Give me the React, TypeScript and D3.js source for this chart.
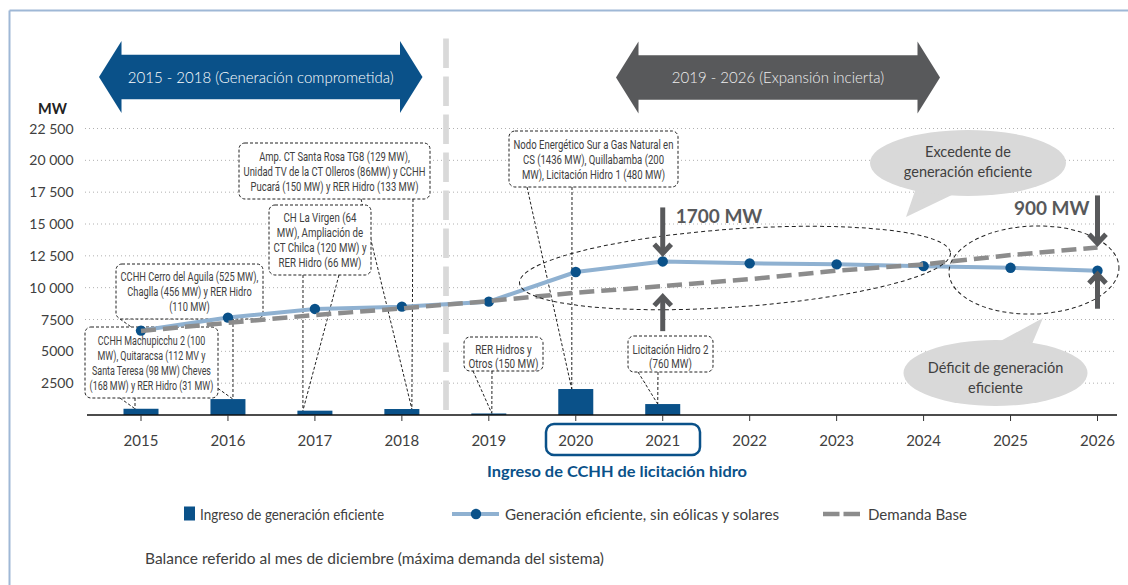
import React, { useLayoutEffect, useRef } from 'react';
import * as d3 from 'd3';

// ---------- DATA ----------
const years = [2015, 2016, 2017, 2018, 2019, 2020, 2021, 2022, 2023, 2024, 2025, 2026];
const ingresoYears = [2015, 2016, 2017, 2018, 2019, 2020, 2021];
const ingreso = [490, 1250, 340, 470, 120, 2040, 860];
const generacion = [6630, 7650, 8330, 8510, 8900, 11230, 12060, 11910, 11830, 11690, 11560, 11330];
const demanda = [6600, 7240, 7850, 8370, 8950, 9600, 10120, 10670, 11330, 11830, 12560, 13160];
const yTicks = [2500, 5000, 7500, 10000, 12500, 15000, 17500, 20000, 22500];
const yTickLabels = ['2500', '5000', '7500', '10 000', '12 500', '15 000', '17 500', '20 000', '22 500'];

const callout2015 = ['CCHH Machupicchu 2 (100', 'MW), Quitaracsa (112 MV y', 'Santa Teresa (98 MW) Cheves', '(168 MW) y RER Hidro (31 MW)'];
const callout2016 = ['CCHH Cerro del Aguila (525 MW),', 'Chaglla (456 MW) y RER Hidro', '(110 MW)'];
const callout2017 = ['CH La Virgen (64', 'MW), Ampliación de', 'CT Chilca (120 MW) y', 'RER Hidro (66 MW)'];
const callout2018 = ['Amp. CT Santa Rosa TG8 (129 MW),', 'Unidad TV de la CT Olleros (86MW) y CCHH', 'Pucará (150 MW) y RER Hidro (133 MW)'];
const callout2019 = ['RER Hidros y', 'Otros (150 MW)'];
const callout2020 = ['Nodo Energético Sur a Gas Natural en', 'CS (1436 MW), Quillabamba (200', 'MW), Licitación Hidro 1 (480 MW)'];
const callout2021 = ['Licitación Hidro 2', '(760 MW)'];

const periodLeft = '2015 - 2018 (Generación comprometida)';
const periodRight = '2019 - 2026 (Expansión incierta)';
const excedente = ['Excedente de', 'generación eficiente'];
const deficit = ['Déficit de generación', 'eficiente'];
const legendLabels = ['Ingreso de generación eficiente', 'Generación eficiente, sin eólicas y solares', 'Demanda Base'];
const highlightLabel = 'Ingreso de CCHH de licitación hidro';
const footnote = 'Balance referido al mes de diciembre (máxima demanda del sistema)';
const gap2021 = '1700 MW';
const gap2026 = '900 MW';

// ---------- STYLE ----------
const BLUE = '#0a5189';
const LIGHT = '#8fb1d1';
const DASH = '#8c8c8c';
const DARK = '#58595b';
const TXT = '#404040';
const BUBBLE = '#d9d9d9';
const FONT = 'Lato, "Open Sans", sans-serif';
const NARROW = '"Liberation Sans Narrow", Roboto, sans-serif';

const x = d3.scalePoint<number>().domain(years).range([141, 1097.5]);
const y = d3.scaleLinear().domain([0, 22500]).range([415, 128.5]);

const callouts = [
  { year: 2015, lines: callout2015, box: [85, 327, 133, 71], bases: [120, 135], dx: -6 },
  { year: 2016, lines: callout2016, box: [116, 264, 147, 55], bases: [120, 233], dx: 5 },
  { year: 2018, lines: callout2018, box: [239, 143, 191, 56], bases: [361, 413], dx: 10 },
  { year: 2017, lines: callout2017, box: [269, 205, 102, 70], bases: [303, 339], dx: -12 },
  { year: 2019, lines: callout2019, box: [464, 337, 79, 34], bases: [473, 492], dx: 3 },
  { year: 2020, lines: callout2020, box: [509, 131, 169, 56], bases: [527, 572], dx: -4 },
  { year: 2021, lines: callout2021, box: [628, 336, 85, 36], bases: [638, 658], dx: -5 },
];

function BigArrow({ x0, x1, cy, text, fill, color }: any) {
  const hw = 22.5, hh = 36, sh = 22.3;
  const pts = [
    [x0, cy], [x0 + hw, cy - hh], [x0 + hw, cy - sh], [x1 - hw, cy - sh], [x1 - hw, cy - hh],
    [x1, cy], [x1 - hw, cy + hh], [x1 - hw, cy + sh], [x0 + hw, cy + sh], [x0 + hw, cy + hh],
  ];
  return (
    <g>
      <polygon points={pts.map((p) => p.join(',')).join(' ')} fill={fill} />
      <text x={(x0 + x1) / 2} y={cy + 5.5} textAnchor="middle" fontFamily={FONT} fontSize={15} fontWeight={300} fill={color}>{text}</text>
    </g>
  );
}

function GapArrow({ cx, from, to }: any) {
  const dir = Math.sign(to - from);
  const tip = to - dir * 3.5;
  return (
    <g stroke={DARK} fill="none" strokeWidth={5}>
      <line x1={cx} y1={from} x2={cx} y2={tip - dir * 2} />
      <polyline points={`${cx - 8.5},${tip - dir * 9} ${cx},${tip} ${cx + 8.5},${tip - dir * 9}`} strokeLinejoin="miter" />
    </g>
  );
}

export default function App() {
  const ref = useRef<SVGSVGElement>(null);

  useLayoutEffect(() => {
    const fit = () => {
      if (!ref.current) return;
      d3.select(ref.current).selectAll<SVGGElement, unknown>('g.callout').each(function () {
        const g = d3.select(this);
        const w = +g.attr('data-w');
        const cx = +g.attr('data-cx');
        const tg = g.select<SVGGElement>('g.txt');
        tg.attr('transform', null);
        let m = 0;
        tg.selectAll<SVGTextElement, unknown>('text').each(function () {
          m = Math.max(m, this.getComputedTextLength());
        });
        if (m > 0) {
          const s = (w - 9) / m;
          tg.attr('transform', `translate(${cx},0) scale(${s},1) translate(${-cx},0)`);
        }
      });
    };
    fit();
    (document as any).fonts?.ready?.then(fit);
  }, []);

  const line = d3.line<number>().x((_, i) => x(years[i])!).y((d) => y(d));

  const ellipse1 = { cx: 735, cy: 268, rx: 216, ry: 39, rot: -4 };
  const ellipse2 = { cx: 1034, cy: 270, rx: 85, ry: 44, rot: -2 };

  const i21 = years.indexOf(2021);
  const i26 = years.indexOf(2026);

  return (
    <svg ref={ref} width={1128} height={585} style={{ position: 'absolute', left: 0, top: 0, background: '#fff' }}>
      {/* frame */}
      <line x1={9.5} y1={10.5} x2={1128} y2={10.5} stroke="#9fb8d6" strokeWidth={2} />
      <line x1={9.5} y1={10.5} x2={9.5} y2={585} stroke="#9fb8d6" strokeWidth={2} />

      {/* period arrows */}
      <BigArrow x0={99} x1={422.5} cy={77} text={periodLeft} fill={BLUE} color="#ffffff" />
      <BigArrow x0={616} x1={940} cy={77.5} text={periodRight} fill={DARK} color="#eeeeee" />

      {/* y axis label */}
      <text x={38} y={113.5} fontFamily={FONT} fontSize={14.5} fontWeight={700} fill="#222">MW</text>

      {/* grid */}
      {yTicks.map((t, i) => (
        <g key={t}>
          <line x1={85} x2={1117} y1={y(t)} y2={y(t)} stroke="#b0b0b0" strokeWidth={1} strokeDasharray="1 3" />
          <text x={73.5} y={y(t) + 5} textAnchor="end" fontFamily={FONT} fontSize={14} fill={TXT}>{yTickLabels[i]}</text>
        </g>
      ))}

      {/* separator */}
      <line x1={446} x2={446} y1={38.5} y2={415} stroke="#d9d9d9" strokeWidth={5.7} strokeDasharray="29.5 8.5" />

      {/* callout leaders */}
      {callouts.map((c) => {
        const idx = ingresoYears.indexOf(c.year);
        const tx = x(c.year)! + c.dx;
        const ty = y(ingreso[idx]);
        const by = c.box[1] + c.box[3];
        return (
          <g key={'l' + c.year} stroke="#222" strokeWidth={1} strokeDasharray="3 2" fill="none">
            {c.bases.map((bx, k) => (
              <line key={k} x1={bx} y1={by} x2={tx} y2={ty} />
            ))}
          </g>
        );
      })}

      {/* callout boxes */}
      {callouts.map((c) => {
        const [bx, by, bw, bh] = c.box;
        const cx = bx + bw / 2;
        const lh = c.lines.length === 2 ? 14 : 15;
        const first = by + bh / 2 - ((c.lines.length - 1) * lh) / 2 + (c.lines.length === 2 ? 2.5 : 0);
        return (
          <g key={'b' + c.year} className="callout" data-w={bw} data-cx={cx}>
            <rect x={bx} y={by} width={bw} height={bh} rx={6} fill="#fff" stroke="#222" strokeWidth={1} strokeDasharray="3 2" />
            <g className="txt">
              {c.lines.map((l, k) => (
                <text key={k} x={cx} y={first + k * lh + 4.6} textAnchor="middle" fontFamily={NARROW} fontSize={13} fill={TXT}>{l}</text>
              ))}
            </g>
          </g>
        );
      })}

      {/* bars */}
      {ingresoYears.map((yr, i) => (
        <rect key={yr} x={x(yr)! - 17.5} width={35} y={y(ingreso[i])} height={y(0) - y(ingreso[i])} fill={BLUE} />
      ))}

      {/* axis */}
      <line x1={87} x2={1117} y1={415} y2={415} stroke="#111" strokeWidth={1.5} />
      {years.map((yr) => (
        <g key={yr}>
          <line x1={x(yr)} x2={x(yr)} y1={415} y2={421} stroke="#333" strokeWidth={1} />
          <text x={x(yr)} y={446} textAnchor="middle" fontFamily={FONT} fontSize={15} fill={TXT}>{yr}</text>
        </g>
      ))}

      {/* generation line */}
      <path d={line(generacion) || ''} fill="none" stroke={LIGHT} strokeWidth={4} strokeLinejoin="round" />
      {generacion.map((v, i) => (
        <circle key={i} cx={x(years[i])} cy={y(v)} r={5.2} fill={BLUE} />
      ))}
      {/* demand line */}
      <path d={line(demanda) || ''} fill="none" stroke={DASH} strokeWidth={4.5} strokeDasharray="15 7" />

      {/* ellipses */}
      {[ellipse1, ellipse2].map((e, k) => (
        <ellipse key={k} cx={e.cx} cy={e.cy} rx={e.rx} ry={e.ry} transform={`rotate(${e.rot},${e.cx},${e.cy})`}
          fill="none" stroke="#222" strokeWidth={1} strokeDasharray="4 3" />
      ))}

      {/* gap arrows */}
      <GapArrow cx={x(2021)} from={y(generacion[i21]) - 54} to={y(generacion[i21]) - 4.6} />
      <GapArrow cx={x(2021)} from={y(demanda[i21]) + 45} to={y(demanda[i21]) + 7} />
      <text x={x(2021)! + 13} y={222.7} fontFamily={FONT} fontSize={19} fontWeight={700} fill={DARK}>{gap2021}</text>
      <GapArrow cx={x(2026)} from={y(demanda[i26]) - 52} to={y(demanda[i26]) - 0.6} />
      <GapArrow cx={x(2026)} from={y(generacion[i26]) + 38} to={y(generacion[i26])} />
      <text x={x(2026)! - 8} y={214.5} textAnchor="end" fontFamily={FONT} fontSize={19} fontWeight={700} fill={DARK}>{gap2026}</text>

      {/* speech bubbles */}
      <g>
        <polygon points="906,217 916,188 956,193" fill={BUBBLE} />
        <ellipse cx={968} cy={163} rx={98} ry={33} fill={BUBBLE} />
        {excedente.map((t, k) => (
          <text key={k} x={968} y={157 + k * 20} textAnchor="middle" fontFamily={FONT} fontSize={14.5} fill={TXT}>{t}</text>
        ))}
        <polygon points="1043,318 995,344 1032,344" fill={BUBBLE} />
        <ellipse cx={995.5} cy={373} rx={92} ry={33} fill={BUBBLE} />
        {deficit.map((t, k) => (
          <text key={k} x={995.5} y={373 + k * 20} textAnchor="middle" fontFamily={FONT} fontSize={14.5} fill={TXT}>{t}</text>
        ))}
      </g>

      {/* highlight 2020-2021 */}
      <rect x={546} y={424} width={154} height={31} rx={8} fill="none" stroke={BLUE} strokeWidth={2.5} />
      <text x={617} y={477} textAnchor="middle" fontFamily={FONT} fontSize={16} fontWeight={700} fill={BLUE}
        textLength={260} lengthAdjust="spacingAndGlyphs">{highlightLabel}</text>

      {/* legend */}
      <rect x={184} y={506.5} width={11} height={14} fill={BLUE} />
      <text x={200} y={520} fontFamily={FONT} fontSize={14.5} fill={TXT} textLength={184} lengthAdjust="spacingAndGlyphs">{legendLabels[0]}</text>
      <line x1={452} x2={499} y1={514} y2={514} stroke={LIGHT} strokeWidth={4} />
      <circle cx={476} cy={514} r={5.2} fill={BLUE} />
      <text x={505} y={520} fontFamily={FONT} fontSize={14.5} fill={TXT} textLength={274} lengthAdjust="spacingAndGlyphs">{legendLabels[1]}</text>
      <line x1={823} x2={860} y1={514} y2={514} stroke={DASH} strokeWidth={4.5} strokeDasharray="16.5 4" />
      <text x={868} y={520} fontFamily={FONT} fontSize={14.5} fill={TXT} textLength={99} lengthAdjust="spacingAndGlyphs">{legendLabels[2]}</text>

      {/* footnote */}
      <text x={145} y={564} fontFamily={FONT} fontSize={15} fill={TXT} textLength={459} lengthAdjust="spacingAndGlyphs">{footnote}</text>
    </svg>
  );
}
